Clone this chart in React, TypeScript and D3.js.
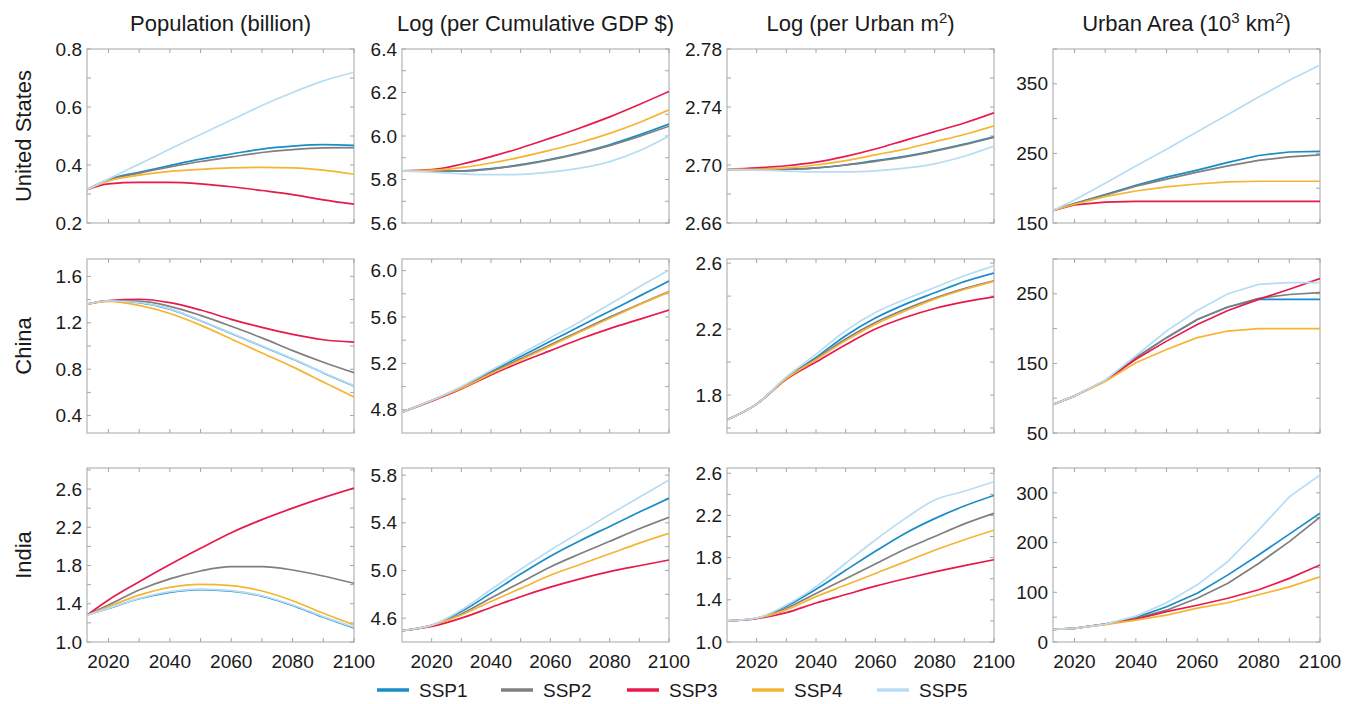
import React from 'react';
import * as d3 from 'd3';

// ---- series / labels ----
const SCENARIOS = ['SSP1', 'SSP2', 'SSP3', 'SSP4', 'SSP5'];
const SCENARIO_COLORS = ['#1a8cc6', '#7f7f7f', '#e8194c', '#f6b433', '#b7dcf4'];
const COUNTRIES = ['United States', 'China', 'India'];
const X_LABELS = [2020, 2040, 2060, 2080, 2100];
const X_MINOR = [2020, 2030, 2040, 2050, 2060, 2070, 2080, 2090, 2100];

// sampling years (first point differs between the two data sources)
const YEARS_2013 = [2013, 2020, 2030, 2040, 2050, 2060, 2070, 2080, 2090, 2100];
const YEARS_2010 = [2010, 2020, 2030, 2040, 2050, 2060, 2070, 2080, 2090, 2100];

// ---- United States ----
const usPopulation = [
  [0.315, 0.35, 0.375, 0.398, 0.42, 0.438, 0.455, 0.465, 0.47, 0.468],
  [0.315, 0.348, 0.372, 0.393, 0.412, 0.428, 0.443, 0.453, 0.459, 0.46],
  [0.315, 0.335, 0.34, 0.34, 0.335, 0.325, 0.312, 0.298, 0.28, 0.265],
  [0.315, 0.345, 0.365, 0.378, 0.385, 0.39, 0.392, 0.39, 0.382, 0.368],
  [0.315, 0.352, 0.403, 0.455, 0.505, 0.555, 0.605, 0.65, 0.69, 0.72],
];
const usGdp = [
  [5.84, 5.838, 5.84, 5.85, 5.868, 5.893, 5.923, 5.96, 6.005, 6.055],
  [5.84, 5.838, 5.839, 5.848, 5.866, 5.89, 5.92, 5.956, 5.998, 6.045],
  [5.84, 5.845, 5.87, 5.905, 5.945, 5.99, 6.037, 6.088, 6.145, 6.205],
  [5.84, 5.843, 5.855, 5.876, 5.903, 5.935, 5.97, 6.012, 6.062, 6.12],
  [5.84, 5.834, 5.826, 5.822, 5.824, 5.834, 5.852, 5.882, 5.932, 6.0],
];
const usUrbanM2 = [
  [2.697, 2.697, 2.697, 2.698, 2.7, 2.703, 2.706, 2.71, 2.7145, 2.7195],
  [2.697, 2.697, 2.697, 2.698, 2.7, 2.7025, 2.7055, 2.7095, 2.714, 2.719],
  [2.697, 2.698, 2.6995, 2.702, 2.706, 2.711, 2.717, 2.723, 2.729, 2.736],
  [2.697, 2.697, 2.698, 2.7, 2.703, 2.707, 2.711, 2.716, 2.721, 2.727],
  [2.697, 2.6965, 2.6958, 2.6952, 2.6952, 2.696, 2.6978, 2.7008, 2.706, 2.713],
];
const usUrbanArea = [
  [168, 178, 191, 204, 216, 226, 237, 247, 252, 253],
  [168, 178, 190, 203, 213, 223, 232, 240, 245, 248],
  [168, 176, 180, 181, 181, 181, 181, 181, 181, 181],
  [168, 177, 188, 196, 202, 206, 209, 210, 210, 210],
  [168, 183, 207, 232, 256, 281, 306, 331, 355, 377],
];

// ---- China ----
const cnPopulation = [
  [1.36, 1.39, 1.373, 1.318, 1.218, 1.108, 0.998, 0.888, 0.768, 0.655],
  [1.36, 1.39, 1.386, 1.342, 1.264, 1.17, 1.07, 0.96, 0.86, 0.77],
  [1.36, 1.392, 1.403, 1.374, 1.31, 1.23, 1.16, 1.1, 1.054, 1.033],
  [1.36, 1.385, 1.35, 1.28, 1.18, 1.06, 0.94, 0.82, 0.69, 0.56],
  [1.36, 1.39, 1.375, 1.32, 1.22, 1.11, 1.0, 0.89, 0.77, 0.657],
];
const cnGdp = [
  [4.78, 4.88, 4.995, 5.13, 5.26, 5.39, 5.52, 5.65, 5.78, 5.91],
  [4.78, 4.88, 4.99, 5.12, 5.24, 5.36, 5.48, 5.6, 5.71, 5.82],
  [4.78, 4.875, 4.98, 5.1, 5.21, 5.31, 5.41, 5.5, 5.58, 5.66],
  [4.78, 4.88, 4.985, 5.11, 5.23, 5.35, 5.47, 5.59, 5.705, 5.815],
  [4.78, 4.88, 5.0, 5.14, 5.28, 5.42, 5.56, 5.71, 5.86, 6.005],
];
const cnUrbanM2 = [
  [1.65, 1.745, 1.905, 2.028, 2.16, 2.267, 2.35, 2.42, 2.488, 2.54],
  [1.65, 1.745, 1.902, 2.02, 2.14, 2.24, 2.32, 2.388, 2.446, 2.493],
  [1.65, 1.745, 1.895, 2.0, 2.105, 2.2, 2.27, 2.325, 2.365, 2.396],
  [1.65, 1.745, 1.9, 2.015, 2.13, 2.23, 2.31, 2.382, 2.44, 2.49],
  [1.65, 1.745, 1.91, 2.048, 2.19, 2.3, 2.38, 2.452, 2.523, 2.584],
];
const cnUrbanArea = [
  [91, 103, 125, 158, 187, 213, 231, 242, 242, 242],
  [91, 103, 125, 158, 187, 213, 231, 243.5, 249, 251.6],
  [91, 103, 125, 156, 182, 206, 226, 242, 256.5, 272],
  [91, 103, 124, 151, 170, 187, 196.5, 200, 200, 200],
  [91, 103, 126, 161, 196.5, 226, 250, 263.6, 266, 266],
];

// ---- India ----
const inPopulation = [
  [1.282, 1.35, 1.452, 1.52, 1.548, 1.532, 1.479, 1.382, 1.26, 1.148],
  [1.282, 1.387, 1.544, 1.66, 1.743, 1.788, 1.788, 1.753, 1.69, 1.614],
  [1.282, 1.44, 1.63, 1.81, 1.98, 2.143, 2.28, 2.4, 2.51, 2.61],
  [1.282, 1.369, 1.49, 1.572, 1.603, 1.59, 1.533, 1.432, 1.3, 1.178],
  [1.282, 1.352, 1.457, 1.526, 1.554, 1.537, 1.484, 1.387, 1.265, 1.154],
];
const inGdp = [
  [4.495, 4.54, 4.655, 4.81, 4.97, 5.12, 5.25, 5.37, 5.49, 5.606],
  [4.495, 4.54, 4.635, 4.77, 4.9, 5.03, 5.14, 5.245, 5.35, 5.446],
  [4.495, 4.53, 4.6, 4.69, 4.78, 4.86, 4.93, 4.99, 5.04, 5.088],
  [4.495, 4.54, 4.627, 4.74, 4.85, 4.96, 5.05, 5.14, 5.23, 5.312],
  [4.495, 4.54, 4.668, 4.84, 5.01, 5.17, 5.32, 5.47, 5.615, 5.76],
];
const inUrbanM2 = [
  [1.2, 1.225, 1.34, 1.5, 1.68, 1.86, 2.03, 2.17, 2.29, 2.39],
  [1.2, 1.225, 1.32, 1.46, 1.6, 1.74, 1.88, 2.0, 2.12, 2.22],
  [1.2, 1.222, 1.278, 1.37, 1.45, 1.53, 1.6, 1.665, 1.725, 1.78],
  [1.2, 1.225, 1.305, 1.43, 1.54, 1.65, 1.76, 1.87, 1.97, 2.06],
  [1.2, 1.228, 1.35, 1.525, 1.747, 1.967, 2.17, 2.347, 2.43, 2.52],
];
const inUrbanArea = [
  [25.5, 27.5, 36, 49, 71, 98, 135, 175, 217, 259],
  [25.5, 27.5, 36, 47, 64, 88, 118, 158, 202, 251],
  [25.5, 27.5, 36, 46, 61, 74, 88, 105, 128, 155],
  [25.5, 27.5, 35, 44, 54, 68, 79, 95, 111, 131],
  [25.5, 27.5, 36, 52, 79, 115, 162, 225, 292, 336],
];

const GRID_DATA = [
  [usPopulation, usGdp, usUrbanM2, usUrbanArea],
  [cnPopulation, cnGdp, cnUrbanM2, cnUrbanArea],
  [inPopulation, inGdp, inUrbanM2, inUrbanArea],
];
const COLUMN_YEARS = [YEARS_2013, YEARS_2010, YEARS_2010, YEARS_2013];

// y axis settings: domain, first tick, tick step, tick count, label every n-th tick, decimals
type AxisSpec = { domain: [number, number]; start: number; step: number; count: number; every: number; dec: number };
const ax = (lo: number, hi: number, start: number, step: number, count: number, every: number, dec: number): AxisSpec =>
  ({ domain: [lo, hi], start, step, count, every, dec });
const Y_AXES: AxisSpec[][] = [
  [ax(0.2, 0.8, 0.2, 0.1, 7, 2, 1), ax(5.6, 6.4, 5.6, 0.1, 9, 2, 1), ax(2.66, 2.78, 2.66, 0.02, 7, 2, 2), ax(150, 400, 150, 50, 6, 2, 0)],
  [ax(0.25, 1.75, 0.4, 0.2, 7, 2, 1), ax(4.6, 6.1, 4.8, 0.2, 7, 2, 1), ax(1.57, 2.625, 1.8, 0.2, 5, 2, 1), ax(50, 300, 50, 50, 6, 2, 0)],
  [ax(1.0, 2.82, 1.0, 0.2, 10, 2, 1), ax(4.4, 5.86, 4.6, 0.2, 7, 2, 1), ax(1.0, 2.65, 1.0, 0.2, 9, 2, 1), ax(0, 350, 0, 50, 8, 2, 0)],
];
const EXTRA_MINOR: number[][][] = [
  [[], [], [], []],
  [[], [], [1.6], []],
  [[], [], [], []],
];

// ---- layout ----
const COL_LEFT = [87, 402, 727, 1053];
const ROW_TOP = [49, 259, 468];
const PW = 267;
const PH = 174;
const FONT = "'Liberation Sans', Arial, Helvetica, sans-serif";
const TICK = 4;
const BOX = '#b4b4b4';
const TEXT = '#1a1a1a';

function Panel({ row, col }: { row: number; col: number }) {
  const left = COL_LEFT[col];
  const top = ROW_TOP[row];
  const years = COLUMN_YEARS[col];
  const spec = Y_AXES[row][col];
  const series = GRID_DATA[row][col];
  const x = d3.scaleLinear().domain([years[0], 2100]).range([left, left + PW]);
  const y = d3.scaleLinear().domain(spec.domain).range([top + PH, top]);
  const ticks = d3.range(spec.count).map((i) => +(spec.start + i * spec.step).toFixed(4));
  const labels = ticks.filter((_, i) => i % spec.every === 0);
  const minorExtra = EXTRA_MINOR[row][col];
  const curve = col === 3 ? d3.curveLinear : d3.curveMonotoneX;
  const line = d3
    .line<number>()
    .x((_, i) => x(years[i]))
    .y((d) => y(d))
    .curve(curve);
  const clipId = `clip-${row}-${col}`;
  const fmt = d3.format(`.${spec.dec}f`);

  return (
    <g>
      <defs>
        <clipPath id={clipId}>
          <rect x={left} y={top} width={PW} height={PH} />
        </clipPath>
      </defs>
      <rect x={left} y={top} width={PW} height={PH} fill="#fff" stroke={BOX} strokeWidth={1.2} />
      {X_MINOR.map((t) => (
        <g key={`xt${t}`} stroke="#a6a6a6" strokeWidth={1}>
          <line x1={x(t)} x2={x(t)} y1={top + PH} y2={top + PH - TICK} />
          <line x1={x(t)} x2={x(t)} y1={top} y2={top + TICK} />
        </g>
      ))}
      {[...ticks, ...minorExtra].map((t) => (
        <g key={`yt${t}`} stroke="#a6a6a6" strokeWidth={1}>
          <line x1={left} x2={left + TICK} y1={y(t)} y2={y(t)} />
          <line x1={left + PW} x2={left + PW - TICK} y1={y(t)} y2={y(t)} />
        </g>
      ))}
      {labels.map((t) => (
        <text key={`yl${t}`} x={left - 5} y={y(t)} dy="0.35em" textAnchor="end" fontSize={19} fill={TEXT}>
          {fmt(t)}
        </text>
      ))}
      {row === 2 &&
        X_LABELS.map((t) => (
          <text key={`xl${t}`} x={x(t)} y={top + PH + 26} textAnchor="middle" fontSize={19} fill={TEXT}>
            {t}
          </text>
        ))}
      <g clipPath={`url(#${clipId})`} fill="none">
        {series.map((vals, i) => (
          <path key={SCENARIOS[i]} d={line(vals) || ''} stroke={SCENARIO_COLORS[i]} strokeWidth={1.7} strokeLinejoin="round" />
        ))}
      </g>
    </g>
  );
}

function ColumnTitle({ col }: { col: number }) {
  const cx = COL_LEFT[col] + PW / 2;
  const common = { x: cx, y: 31, textAnchor: 'middle' as const, fontSize: 22, fill: TEXT };
  if (col === 0) return <text {...common}>Population (billion)</text>;
  if (col === 1) return <text {...common}>Log (per Cumulative GDP $)</text>;
  if (col === 2)
    return (
      <text {...common}>
        Log (per Urban m
        <tspan dy={-8} fontSize={15}>2</tspan>
        <tspan dy={8}>)</tspan>
      </text>
    );
  return (
    <text {...common}>
      Urban Area (10
      <tspan dy={-8} fontSize={15}>3</tspan>
      <tspan dy={8}> km</tspan>
      <tspan dy={-8} fontSize={15}>2</tspan>
      <tspan dy={8}>)</tspan>
    </text>
  );
}

const LEGEND_X = [377, 501, 627, 752, 877];
const LEGEND_Y = 690;

export default function App() {
  return (
    <svg
      width={1363}
      height={704}
      style={{ position: 'absolute', left: 0, top: 0, display: 'block' }}
      fontFamily={FONT}
    >
      <rect width={1363} height={704} fill="#fff" />
      {[0, 1, 2, 3].map((c) => (
        <ColumnTitle key={`t${c}`} col={c} />
      ))}
      {COUNTRIES.map((name, r) => (
        <text
          key={name}
          transform={`translate(31, ${ROW_TOP[r] + PH / 2}) rotate(-90)`}
          textAnchor="middle"
          fontSize={22}
          fill={TEXT}
        >
          {name}
        </text>
      ))}
      {[0, 1, 2].map((r) => [0, 1, 2, 3].map((c) => <Panel key={`p${r}${c}`} row={r} col={c} />))}
      {SCENARIOS.map((s, i) => (
        <g key={s}>
          <line x1={LEGEND_X[i]} x2={LEGEND_X[i] + 32} y1={LEGEND_Y} y2={LEGEND_Y} stroke={SCENARIO_COLORS[i]} strokeWidth={3.5} />
          <text x={LEGEND_X[i] + 42} y={LEGEND_Y} dy="0.35em" fontSize={19} fill={TEXT}>
            {s}
          </text>
        </g>
      ))}
    </svg>
  );
}
